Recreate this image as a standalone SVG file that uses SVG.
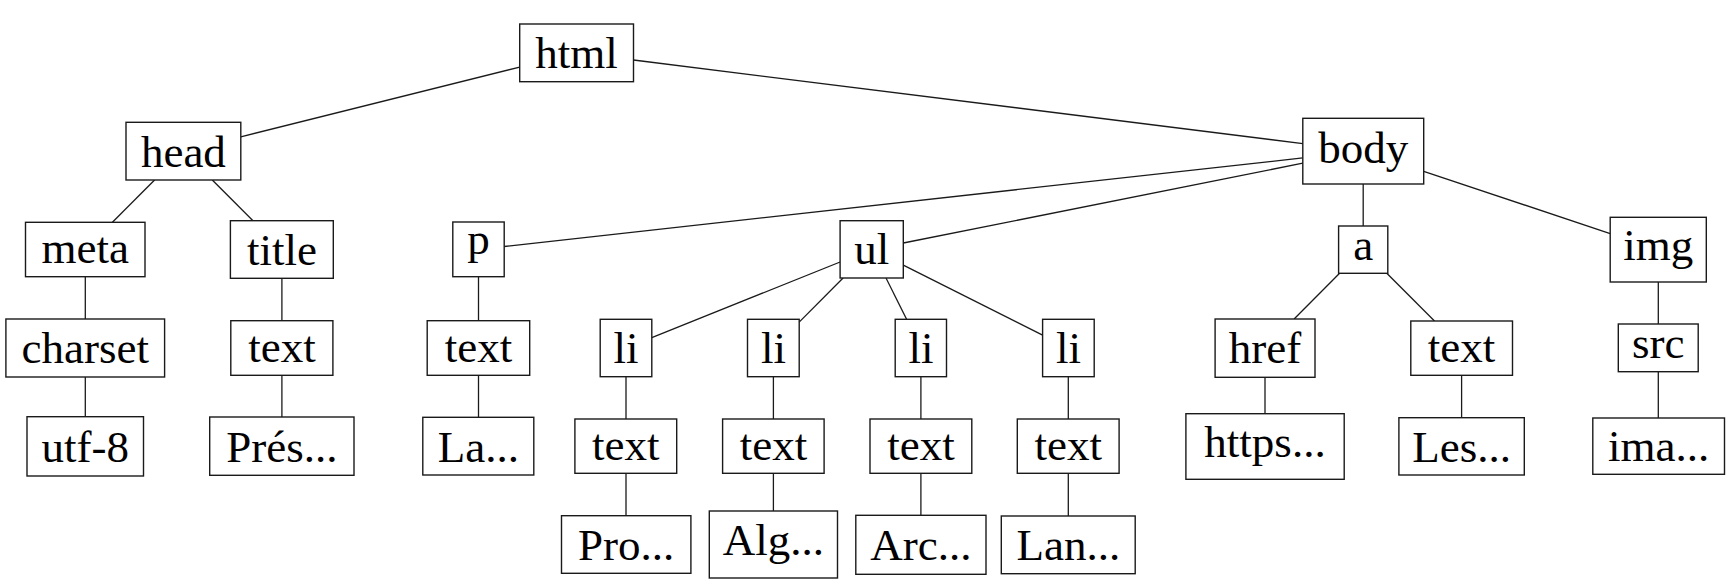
<svg xmlns="http://www.w3.org/2000/svg" width="1730" height="586" viewBox="0 0 1730 586">
<style>
.n rect{fill:#fff;stroke:#1a1a1a;stroke-width:1.4}
.n text{font-family:"Liberation Serif","Times New Roman",serif;font-size:45px;fill:#000;text-anchor:middle}
#edges line{stroke:#1a1a1a;stroke-width:1.3}
</style>
<rect width="1730" height="586" fill="#fff"/>
<g id="edges">
<line x1="519.7" y1="67.1" x2="240.8" y2="136.8"/>
<line x1="633.5" y1="60" x2="1302.8" y2="143.6"/>
<line x1="154.6" y1="180" x2="112.4" y2="222.3"/>
<line x1="212.3" y1="180" x2="253" y2="220.7"/>
<line x1="1302.8" y1="157.9" x2="504.2" y2="246.5"/>
<line x1="1302.8" y1="163.2" x2="903.3" y2="243"/>
<line x1="1363.2" y1="184" x2="1363.2" y2="226"/>
<line x1="1423.7" y1="171.3" x2="1610.2" y2="233.6"/>
<line x1="85.3" y1="276.7" x2="85.3" y2="319"/>
<line x1="85.3" y1="377" x2="85.3" y2="416.7"/>
<line x1="281.9" y1="278.3" x2="281.9" y2="320.7"/>
<line x1="281.9" y1="375.3" x2="281.9" y2="417"/>
<line x1="478.5" y1="276.7" x2="478.5" y2="320.7"/>
<line x1="478.5" y1="375.3" x2="478.5" y2="417.3"/>
<line x1="840.1" y1="262" x2="651.8" y2="337.6"/>
<line x1="843.1" y1="278" x2="799.2" y2="322.1"/>
<line x1="886" y1="278" x2="906.6" y2="319.3"/>
<line x1="903.3" y1="265.2" x2="1042.6" y2="335.1"/>
<line x1="626" y1="376.7" x2="626" y2="419"/>
<line x1="626" y1="473.3" x2="626" y2="515.7"/>
<line x1="773.4" y1="376.7" x2="773.4" y2="419"/>
<line x1="773.4" y1="473.3" x2="773.4" y2="511"/>
<line x1="920.9" y1="376.7" x2="920.9" y2="419"/>
<line x1="920.9" y1="473.3" x2="920.9" y2="515.3"/>
<line x1="1068.3" y1="376.7" x2="1068.3" y2="419"/>
<line x1="1068.3" y1="473.3" x2="1068.3" y2="516"/>
<line x1="1339.6" y1="273.3" x2="1294.1" y2="319"/>
<line x1="1386.8" y1="273.3" x2="1434.5" y2="321"/>
<line x1="1265" y1="377.3" x2="1265" y2="413.7"/>
<line x1="1461.6" y1="375.3" x2="1461.6" y2="417.7"/>
<line x1="1658.3" y1="282" x2="1658.3" y2="324"/>
<line x1="1658.3" y1="371.7" x2="1658.3" y2="418"/>
</g>
<g id="html" class="n"><rect x="519.7" y="24" width="113.8" height="57.7"/><text x="576.6" y="68">html</text></g>
<g id="head" class="n"><rect x="126" y="122.3" width="114.8" height="57.7"/><text x="183.4" y="166.5">head</text></g>
<g id="body" class="n"><rect x="1302.8" y="118.3" width="120.9" height="65.7"/><text x="1363.2" y="163">body</text></g>
<g id="meta" class="n"><rect x="25.5" y="222.3" width="119.5" height="54.4"/><text x="85.3" y="262.5">meta</text></g>
<g id="title" class="n"><rect x="230.4" y="220.7" width="102.9" height="57.6"/><text x="281.9" y="264.5">title</text></g>
<g id="p" class="n"><rect x="452.8" y="222" width="51.4" height="54.7"/><text x="478.5" y="254">p</text></g>
<g id="ul" class="n"><rect x="840.1" y="220.7" width="63.2" height="57.3"/><text x="871.7" y="264">ul</text></g>
<g id="a" class="n"><rect x="1338.6" y="226" width="49.2" height="47.3"/><text x="1363.2" y="259.5">a</text></g>
<g id="img" class="n"><rect x="1610.2" y="217.3" width="96.1" height="64.7"/><text x="1658.3" y="260">img</text></g>
<g id="charset" class="n"><rect x="5.9" y="319" width="158.7" height="58"/><text x="85.3" y="363">charset</text></g>
<g id="text-title" class="n"><rect x="230.8" y="320.7" width="102.1" height="54.6"/><text x="281.9" y="361.5">text</text></g>
<g id="text-p" class="n"><rect x="427.2" y="320.7" width="102.5" height="54.6"/><text x="478.5" y="361.5">text</text></g>
<g id="li1" class="n"><rect x="600.2" y="319.3" width="51.6" height="57.4"/><text x="626" y="362.8">li</text></g>
<g id="li2" class="n"><rect x="747.5" y="319.3" width="51.7" height="57.4"/><text x="773.4" y="362.8">li</text></g>
<g id="li3" class="n"><rect x="895.2" y="319.3" width="51.3" height="57.4"/><text x="920.9" y="362.8">li</text></g>
<g id="li4" class="n"><rect x="1042.6" y="319.3" width="51.6" height="57.4"/><text x="1068.4" y="362.8">li</text></g>
<g id="href" class="n"><rect x="1215.1" y="319" width="99.9" height="58.3"/><text x="1265" y="363.2">href</text></g>
<g id="text-a" class="n"><rect x="1410.8" y="321" width="101.7" height="54.3"/><text x="1461.6" y="361.5">text</text></g>
<g id="src" class="n"><rect x="1618.3" y="324" width="79.9" height="47.7"/><text x="1658.3" y="357.5">src</text></g>
<g id="utf8" class="n"><rect x="27" y="416.7" width="116.5" height="59.3"/><text x="85.3" y="462">utf-8</text></g>
<g id="pres" class="n"><rect x="209.7" y="417" width="144.3" height="58.3"/><text x="281.9" y="461.5">Prés...</text></g>
<g id="la" class="n"><rect x="422.8" y="417.3" width="111" height="57.7"/><text x="478.3" y="461.5">La...</text></g>
<g id="text1" class="n"><rect x="574.9" y="419" width="101.8" height="54.3"/><text x="625.8" y="459.5">text</text></g>
<g id="text2" class="n"><rect x="722.6" y="419" width="101.5" height="54.3"/><text x="773.4" y="459.5">text</text></g>
<g id="text3" class="n"><rect x="870" y="419" width="101.8" height="54.3"/><text x="920.9" y="459.5">text</text></g>
<g id="text4" class="n"><rect x="1017.3" y="419" width="101.8" height="54.3"/><text x="1068.2" y="459.5">text</text></g>
<g id="https" class="n"><rect x="1185.9" y="413.7" width="158.3" height="65.6"/><text x="1265" y="456.5">https...</text></g>
<g id="les" class="n"><rect x="1398.9" y="417.7" width="125.4" height="57.3"/><text x="1461.6" y="461.5">Les...</text></g>
<g id="ima" class="n"><rect x="1592.8" y="418" width="131.7" height="56.3"/><text x="1658.6" y="460.5">ima...</text></g>
<g id="pro" class="n"><rect x="561.5" y="515.7" width="129.4" height="57.6"/><text x="626.2" y="559.5">Pro...</text></g>
<g id="alg" class="n"><rect x="709.3" y="511" width="128.2" height="67"/><text x="773.4" y="555">Alg...</text></g>
<g id="arc" class="n"><rect x="855.8" y="515.3" width="130.2" height="59"/><text x="920.9" y="560.3">Arc...</text></g>
<g id="lan" class="n"><rect x="1001.3" y="516" width="133.9" height="57.7"/><text x="1068.3" y="559.7">Lan...</text></g>
</svg>
